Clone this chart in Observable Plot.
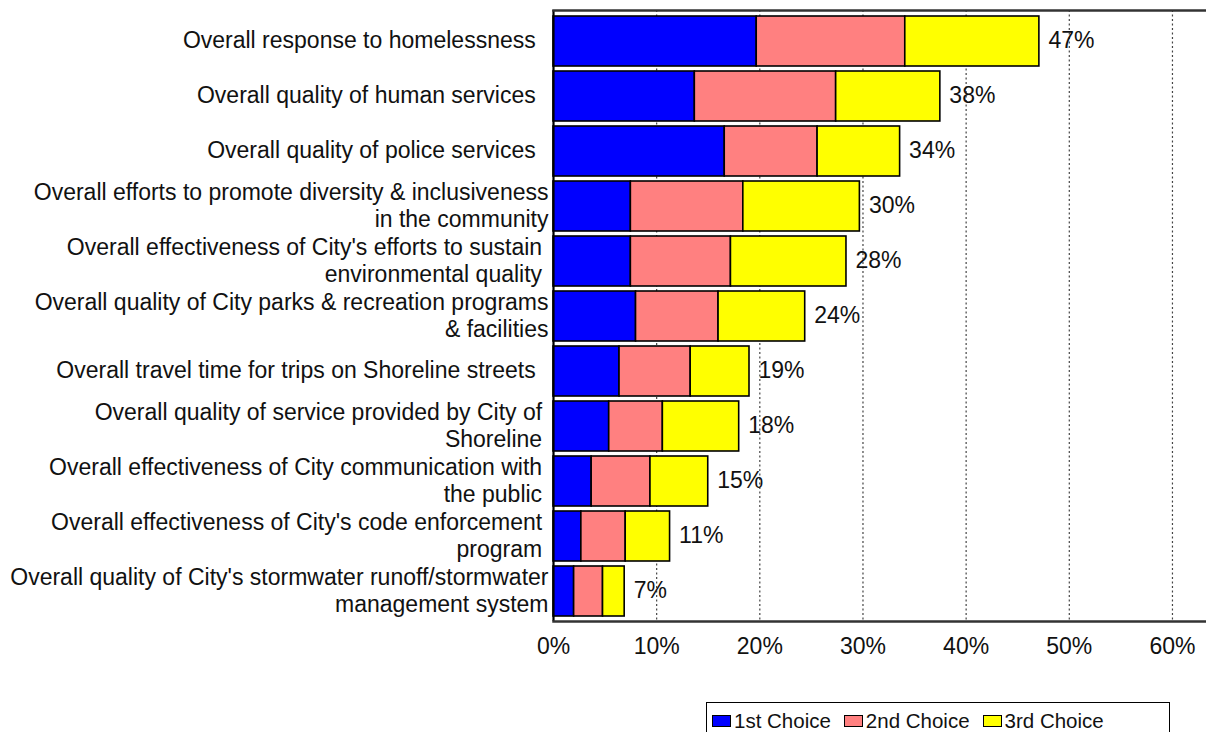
<!DOCTYPE html>
<html><head><meta charset="utf-8">
<script src="https://cdn.jsdelivr.net/npm/d3@7"></script>
<script src="https://cdn.jsdelivr.net/npm/@observablehq/plot@0.6"></script>
<style>
body{margin:0;background:#fff;font-family:"Liberation Sans",Arial,sans-serif;}
#chart{position:absolute;left:0;top:0;}
#legend{position:absolute;left:706px;top:702px;width:464px;height:40px;border:1.5px solid #000;box-sizing:border-box;display:flex;align-items:flex-start;padding:6px 0 0 5px;font-size:20.5px;color:#111;white-space:nowrap;}
.item{display:flex;align-items:center;margin-right:13px;}
.sw{width:17px;height:10px;border:1.5px solid #000;margin-right:3px;}
</style></head><body>
<div id="chart"></div>
<div id="legend"></div>
<script>
const NB = "\u00a0";
const categories = [
  "Overall response to homelessness" + NB + NB,
  "Overall quality of human services" + NB + NB,
  "Overall quality of police services" + NB + NB,
  "Overall efforts to promote diversity & inclusiveness\nin the community",
  "Overall effectiveness of City's efforts to sustain" + NB + "\nenvironmental quality" + NB,
  "Overall quality of City parks & recreation programs\n& facilities",
  "Overall travel time for trips on Shoreline streets" + NB + NB,
  "Overall quality of service provided by City of" + NB + "\nShoreline" + NB,
  "Overall effectiveness of City communication with" + NB + "\nthe public" + NB,
  "Overall effectiveness of City's code enforcement" + NB + "\nprogram" + NB,
  "Overall quality of City's stormwater runoff/stormwater\nmanagement system"
];
const firstChoice  = [19.7, 13.7, 16.6, 7.5, 7.5, 8.0, 6.4, 5.4, 3.7, 2.7, 2.0];
const secondChoice = [14.4, 13.7, 9.0, 10.9, 9.7, 8.0, 6.9, 5.2, 5.7, 4.3, 2.8];
const thirdChoice  = [13.0, 10.1, 8.0, 11.3, 11.2, 8.4, 5.7, 7.4, 5.6, 4.3, 2.1];
const totalLabels  = [47, 38, 34, 30, 28, 24, 19, 18, 15, 11, 7];
const seriesNames  = ["1st Choice", "2nd Choice", "3rd Choice"];
const seriesColors = ["#0000ff", "#ff8080", "#ffff00"];
const xTicks = [0, 10, 20, 30, 40, 50, 60];

const seriesValues = [firstChoice, secondChoice, thirdChoice];
const rows = [];
categories.forEach((c, i) => {
  seriesNames.forEach((s, k) => rows.push({category: c, series: s, value: seriesValues[k][i]}));
});
const totals = categories.map((c, i) => ({
  category: c,
  end: firstChoice[i] + secondChoice[i] + thirdChoice[i],
  label: totalLabels[i] + "%"
}));

const plot = Plot.plot({
  width: 1206, height: 700,
  marginLeft: 553, marginRight: 0, marginTop: 10, marginBottom: 79,
  style: {fontFamily: "'Liberation Sans', Arial, sans-serif", fontSize: "23px", background: "#fff", color: "#111", overflow: "visible"},
  x: {domain: [0, 63.3]},
  y: {domain: categories, paddingInner: 0.1, paddingOuter: 0.07},
  color: {domain: seriesNames, range: seriesColors},
  marks: [
    Plot.ruleX(xTicks.slice(1), {stroke: "#444", strokeDasharray: "2,2.5", strokeWidth: 1.2}),
    Plot.barX(rows, Plot.stackX({x: "value", y: "category", fill: "series", order: seriesNames, stroke: "#000", strokeWidth: 1.6})),
    Plot.text(totals, {x: "end", y: "category", text: "label", dx: 9, dy: -1, textAnchor: "start", fontSize: 23, fill: "#111"}),
    Plot.axisY({tickSize: 0, tickPadding: 5, fontSize: 23, lineHeight: 1.17, textAnchor: "end", label: null, fill: "#111", dy: -2}),
    Plot.axisX({ticks: xTicks, tickSize: 0, tickPadding: 16, tickFormat: d => d + "%", fontSize: 23, label: null, fill: "#111"}),
    Plot.ruleX([0], {stroke: "#000", strokeWidth: 2.2}),
    Plot.frame({anchor: "top", stroke: "#333", strokeWidth: 2.5}),
    Plot.frame({anchor: "bottom", stroke: "#333", strokeWidth: 2.5})
  ]
});
document.getElementById("chart").appendChild(plot);

const legend = document.getElementById("legend");
seriesNames.forEach((s, k) => {
  const item = document.createElement("div");
  item.className = "item";
  const sw = document.createElement("div");
  sw.className = "sw";
  sw.style.background = seriesColors[k];
  const t = document.createElement("span");
  t.textContent = s;
  item.appendChild(sw);
  item.appendChild(t);
  legend.appendChild(item);
});
</script>
</body></html>
